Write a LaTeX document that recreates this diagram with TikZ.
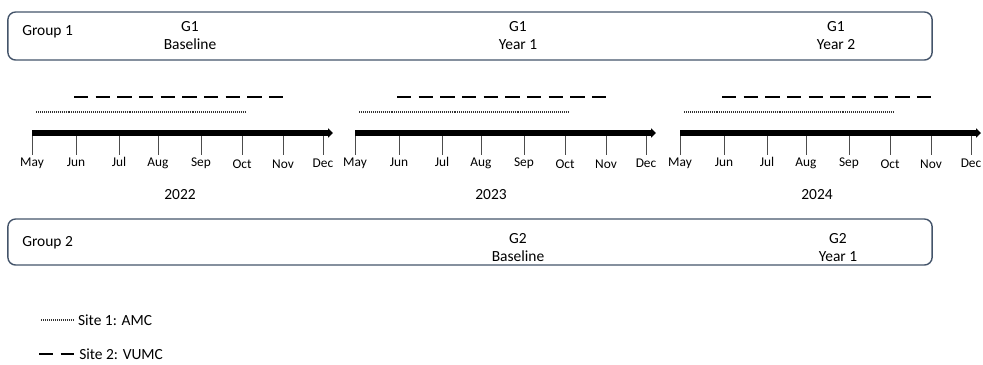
\documentclass[tikz,border=0pt]{standalone}
\usepackage{fontspec}
\setmainfont{Carlito}
\usetikzlibrary{arrows.meta, positioning}
\definecolor{boxline}{RGB}{68,84,106}

\begin{document}
\begin{tikzpicture}[
    x=0.025cm, y=-0.025cm,
    groupbox/.style = {draw=boxline, line width=1pt, rounded corners=5.5pt, minimum width=23.1cm},
    grptext/.style = {anchor=west, font=\fontsize{11}{13}\selectfont, inner sep=0pt},
    wave/.style = {align=center, font=\fontsize{11}{12.8}\selectfont, inner sep=0pt},
    month/.style = {anchor=base, font=\fontsize{9.5}{11}\selectfont, inner sep=0pt},
    yeartext/.style = {anchor=base, font=\fontsize{11}{13}\selectfont, inner sep=0pt},
    bar/.style = {line width=4.3pt, -{Triangle[length=3.5pt,width=6.5pt]}},
    monthtick/.style = {draw=black!70, line width=0.6pt},
    site1/.style = {draw=black!80, line width=1.2pt, dash pattern=on 0.7pt off 0.7pt},
    site2/.style = {draw=black, line width=2pt, dash pattern=on 10.2pt off 5.2pt},
    legendtext/.style = {font=\fontsize{11}{13}\selectfont, inner sep=0pt, anchor=west}
]
\useasboundingbox (0,0) rectangle (983,364);

% Group boxes
\node (grp1) [groupbox, minimum height=1.2cm] at (470,36) {};
\node (grp2) [groupbox, minimum height=1.15cm] at (470,242) {};
\node (grp1txt) [grptext] at (22,32) {Group 1};
\node (grp2txt) [grptext] at (22,243) {Group 2};

% Waves
\node (g1base) [wave] at (190,36) {G1\\Baseline};
\node (g1y1) [wave] at (518,36) {G1\\Year 1};
\node (g1y2) [wave] at (836,36) {G1\\Year 2};
\node (g2base) [wave] at (518,248) {G2\\Baseline};
\node (g2y1) [wave] at (838,248) {G2\\Year 1};

% Timelines
\foreach \yr/\ox/\yx in {2022/32/180, 2023/355/491, 2024/680/817} {
    \coordinate (s\yr) at (\ox,133);
    \coordinate (e\yr) at (\ox+301,133);
    \draw [bar] (s\yr) -- (e\yr);
    \foreach \m/\dx/\dy [count=\i] in {May/0/0, Jun/44/0, Jul/87/0, Aug/126/0, Sep/169/0, Oct/210/2, Nov/251/2, Dec/291/1} {
        \draw [monthtick] (\ox+\dx,136) -- (\ox+\dx,155);
        \node (m\yr-\i) [month] at (\ox+\dx,166+\dy) {\m};
    }
    \node (y\yr) [yeartext] at (\yx,199) {\yr};
    % data collection per site
    \coordinate (a\yr) at (\ox+4,112);
    \coordinate (b\yr) at (\ox+214,112);
    \draw [site1] (a\yr) -- (b\yr);
    \coordinate (c\yr) at (\ox+42,97);
    \coordinate (d\yr) at (\ox+252,97);
    \draw [site2] (c\yr) -- (d\yr);
}

% Legend
\coordinate (l1s) at (41,320);
\coordinate [right=0.8cm of l1s] (l1e);
\node (leg1) [legendtext, right=0.12cm of l1e] {Site 1: AMC};
\draw [site1] (l1s) -- (l1e);
\coordinate (l2s) at (39,354);
\coordinate [right=0.88cm of l2s] (l2e);
\node (leg2) [legendtext, right=0.12cm of l2e] {Site 2: VUMC};
\draw [site2] (l2s) -- (l2e);

\end{tikzpicture}
\end{document}
